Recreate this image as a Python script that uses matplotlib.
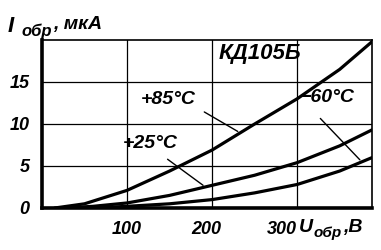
import matplotlib
matplotlib.use('Agg')
import matplotlib.pyplot as plt
from matplotlib.transforms import ScaledTranslation
import numpy as np

# reverse voltage, V and reverse current, uA
u_85 = [15, 50, 100, 150, 200, 250, 300, 350, 388]
i_85 = [0, 0.5, 2.1, 4.4, 6.9, 10.0, 13.0, 16.5, 19.8]

u_25 = [25, 60, 100, 150, 200, 250, 300, 350, 388]
i_25 = [0, 0.2, 0.6, 1.5, 2.7, 3.9, 5.4, 7.4, 9.3]

u_60 = [60, 100, 150, 200, 250, 300, 350, 388]
i_60 = [0, 0.2, 0.5, 1.0, 1.8, 2.8, 4.4, 6.0]

x_ticks = [100, 200, 300]
y_ticks = [0, 5, 10, 15]

plt.rcParams['font.family'] = ['Liberation Sans', 'DejaVu Sans']
plt.rcParams['font.style'] = 'italic'
plt.rcParams['font.weight'] = 'bold'

fig = plt.figure(figsize=(3.81, 2.5), dpi=100)
ax = fig.add_axes([42 / 381, 42 / 250, 330 / 381, 168 / 250])

ax.set_xlim(0, 388)
ax.set_ylim(0, 20)

for u, i in [(u_85, i_85), (u_25, i_25), (u_60, i_60)]:
    ax.plot(u, i, color='black', lw=2.3, solid_capstyle='round')

ax.set_xticks(x_ticks)
ax.set_yticks(y_ticks)
ax.set_xticklabels([str(v) for v in x_ticks], fontsize=13)
ax.set_yticklabels([str(v) for v in y_ticks], fontsize=13)
ax.tick_params(length=0, pad=9)
ax.grid(True, color='black', lw=0.9)

# the 300 label sits a little to the left to leave room for the axis name
lab = ax.get_xticklabels()[2]
lab.set_transform(lab.get_transform() + ScaledTranslation(-0.15, 0, fig.dpi_scale_trans))
lab = ax.get_xticklabels()[1]
lab.set_transform(lab.get_transform() + ScaledTranslation(-0.06, 0, fig.dpi_scale_trans))

ax.spines['left'].set_linewidth(2.6)
ax.spines['bottom'].set_linewidth(2.6)
ax.spines['top'].set_linewidth(1.2)
ax.spines['right'].set_linewidth(1.2)

# curve labels with leader lines
ax.text(148, 12.9, '+85°C', fontsize=14, ha='center', va='center')
ax.annotate('', xy=(233, np.interp(233, u_85, i_85)), xytext=(188, 11.6),
            arrowprops=dict(arrowstyle='-', color='black', lw=1))
ax.text(127, 7.7, '+25°C', fontsize=14, ha='center', va='center')
ax.annotate('', xy=(192, np.interp(192, u_25, i_25)), xytext=(145, 6.0),
            arrowprops=dict(arrowstyle='-', color='black', lw=1))
ax.text(336, 13.2, '−60°C', fontsize=14, ha='center', va='center')
ax.annotate('', xy=(376, np.interp(376, u_60, i_60)), xytext=(325, 10.9),
            arrowprops=dict(arrowstyle='-', color='black', lw=1))

ax.text(256, 18.4, 'КД105Б', fontsize=16, ha='center', va='center')

# axis names
fig.text(8 / 381, 1 - 32 / 250, 'I', fontsize=16)
fig.text(21 / 381, 1 - 36 / 250, 'обр', fontsize=12)
fig.text(53 / 381, 1 - 29 / 250, ', мкА', fontsize=14)

fig.text(299 / 381, 1 - 232 / 250, 'U', fontsize=14)
fig.text(314 / 381, 1 - 237 / 250, 'обр', fontsize=11)
fig.text(343 / 381, 1 - 232 / 250, ',В', fontsize=14)

fig.savefig('out.png', dpi=100)
